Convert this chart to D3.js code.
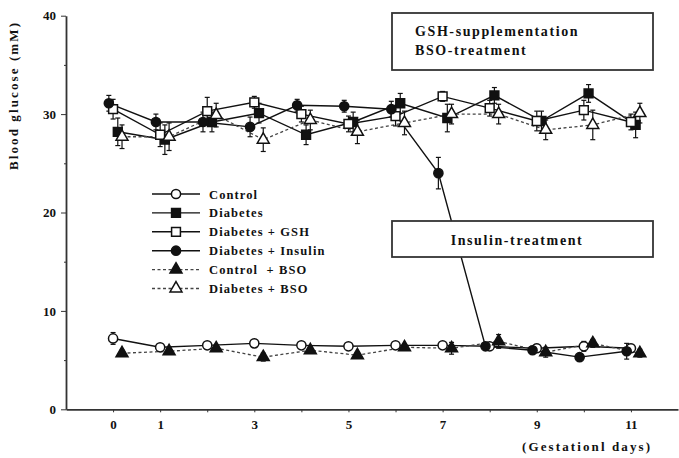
<!DOCTYPE html>
<html lang="en">
<head>
  <meta charset="UTF-8" />
  <title>Blood glucose during gestation</title>
  <script src="https://d3js.org/d3.v7.min.js"></script>
  <style>
    body { margin: 0; background: #fff; }
    svg { display: block; }
    text { font-family: 'Liberation Serif', 'Times New Roman', serif; font-weight: bold; fill: #111; }
    .axis path, .axis line { stroke: #333; }
    .axis path { stroke-width: 1.8; }
    .axis text { font-size: 13px; }
    .legend-label { white-space: pre; }
  </style>
</head>
<body>
  <svg id="chart" width="679" height="458"></svg>

  <script>
    // gestation days
    const days = [0, 1, 2, 3, 4, 5, 6, 7, 8, 9, 10, 11];
    const xLabels = [0, 1, 3, 5, 7, 9, 11];
    const yTicks = [0, 10, 20, 30, 40];
    const yMinor = [5, 15, 25, 35];

    // blood glucose (mM), mean and error per day
    const control        = [7.2, 6.3, 6.5, 6.7, 6.5, 6.4, 6.5, 6.5, 6.4, 6.2, 6.4, 6.2];
    const controlErr     = [0.6, 0.3, 0.3, 0.4, 0.3, 0.3, 0.3, 0.3, 0.3, 0.4, 0.5, 0.4];
    const diabetes       = [28.2, 27.4, 29.2, 30.1, 27.9, 29.2, 31.1, 29.6, 31.9, 29.3, 32.1, 28.9];
    const diabetesErr    = [1.4, 1.5, 1.0, 1.0, 1.0, 1.0, 1.0, 1.4, 0.8, 1.0, 0.9, 1.3];
    const gsh            = [30.5, 27.9, 30.3, 31.2, 30.0, 29.0, 29.8, 31.8, 30.6, 29.3, 30.4, 29.2];
    const gshErr         = [1.0, 1.2, 1.4, 0.6, 0.8, 0.8, 1.0, 0.5, 0.8, 1.0, 1.0, 0.8];
    const insulin        = [31.1, 29.2, 29.2, 28.7, 30.9, 30.8, 30.5, 24.0, 6.4, 6.0, 5.3, 5.9];
    const insulinErr     = [0.8, 0.8, 1.0, 1.0, 0.6, 0.6, 0.8, 1.6, 0.4, 0.4, 0.3, 0.8];
    const controlBso     = [5.7, 5.9, 6.2, 5.3, 6.0, 5.5, 6.3, 6.2, 6.9, 5.8, 6.7, 5.7];
    const controlBsoErr  = [0.3, 0.3, 0.3, 0.4, 0.3, 0.3, 0.3, 0.6, 0.7, 0.5, 0.4, 0.4];
    const diabetesBso    = [27.7, 27.7, 29.9, 27.4, 29.4, 28.2, 29.1, 30.0, 30.0, 28.4, 28.9, 30.1];
    const diabetesBsoErr = [1.2, 1.4, 1.2, 1.2, 1.0, 1.2, 1.2, 1.0, 1.0, 1.0, 1.5, 1.0];

    const series = [
      { name: "Control",            values: control,     err: controlErr,     shape: d3.symbolCircle,   filled: false, dashed: false, shift: 0 },
      { name: "Diabetes",           values: diabetes,    err: diabetesErr,    shape: d3.symbolSquare,   filled: true,  dashed: false, shift: 0.1 },
      { name: "Diabetes + GSH",     values: gsh,         err: gshErr,         shape: d3.symbolSquare,   filled: false, dashed: false, shift: 0 },
      { name: "Diabetes + Insulin", values: insulin,     err: insulinErr,     shape: d3.symbolCircle,   filled: true,  dashed: false, shift: -0.09 },
      { name: "Control  + BSO",     values: controlBso,  err: controlBsoErr,  shape: d3.symbolTriangle, filled: true,  dashed: true,  shift: 0.19 },
      { name: "Diabetes + BSO",     values: diabetesBso, err: diabetesBsoErr, shape: d3.symbolTriangle, filled: false, dashed: true,  shift: 0.19 }
    ];

    const svg = d3.select("#chart");
    const x = d3.scaleLinear().domain([-1, 12]).range([66, 678]);
    const y = d3.scaleLinear().domain([0, 40]).range([409.3, 15.7]);

    const symSize = s => s === d3.symbolSquare ? 78 : s === d3.symbolTriangle ? 62 : 66;

    // axes
    svg.append("g").attr("class", "axis")
      .attr("transform", `translate(${x(-1)},0)`)
      .call(d3.axisLeft(y).tickValues(yTicks).tickSize(5).tickSizeOuter(0).tickPadding(5))
      .call(g => g.selectAll("text").style("font-size", "13px"));
    svg.append("g").attr("class", "axis")
      .attr("transform", `translate(${x(-1)},0)`)
      .call(d3.axisLeft(y).tickValues(yMinor).tickSize(2).tickFormat(""))
      .call(g => g.select(".domain").remove());

    svg.append("g").attr("class", "axis")
      .attr("transform", `translate(0,${y(0)})`)
      .call(d3.axisBottom(x).tickValues(days).tickSize(3).tickSizeOuter(0).tickPadding(7)
        .tickFormat(d => xLabels.includes(d) ? d : ""));

    svg.append("text")
      .attr("transform", `translate(18,${(23 + 170) / 2}) rotate(-90)`)
      .attr("text-anchor", "middle")
      .style("font-size", "13px")
      .attr("textLength", 147).attr("lengthAdjust", "spacing")
      .text("Blood glucose (mM)");

    svg.append("text")
      .attr("x", 522).attr("y", 451)
      .style("font-size", "13px")
      .attr("textLength", 128).attr("lengthAdjust", "spacing")
      .text("(Gestationl days)");

    // lines
    const line = d3.line()
      .x((d, i) => x(days[i] + d.shift))
      .y(d => y(d.v));

    series.forEach(s => {
      const pts = s.values.map(v => ({ v, shift: s.shift }));
      svg.append("path")
        .attr("d", line(pts))
        .attr("fill", "none")
        .attr("stroke", s.dashed ? "#444" : "#111")
        .attr("stroke-width", s.dashed ? 1.3 : 1.4)
        .attr("stroke-dasharray", s.dashed ? "3,2.5" : null);
    });

    // error bars
    series.forEach(s => {
      const g = svg.append("g").attr("stroke", "#111").attr("stroke-width", 1.2);
      s.values.forEach((v, i) => {
        const cx = x(days[i] + s.shift);
        const top = y(v + s.err[i]), bot = y(v - s.err[i]);
        g.append("line").attr("x1", cx).attr("x2", cx).attr("y1", top).attr("y2", bot);
        g.append("line").attr("x1", cx - 2.5).attr("x2", cx + 2.5).attr("y1", top).attr("y2", top);
        g.append("line").attr("x1", cx - 2.5).attr("x2", cx + 2.5).attr("y1", bot).attr("y2", bot);
      });
    });

    // markers
    series.forEach(s => {
      svg.append("g").selectAll("path")
        .data(s.values)
        .join("path")
        .attr("transform", (v, i) => `translate(${x(days[i] + s.shift)},${y(v)})`)
        .attr("d", d3.symbol().type(s.shape).size(symSize(s.shape)))
        .attr("fill", s.filled ? "#111" : "#fff")
        .attr("stroke", "#111")
        .attr("stroke-width", 1.5);
    });

    // legend
    const legend = svg.append("g").attr("transform", "translate(152,194)");
    series.forEach((s, i) => {
      const row = legend.append("g").attr("transform", `translate(0,${i * 18.9})`);
      row.append("line")
        .attr("x1", 0).attr("x2", 48)
        .attr("stroke", s.dashed ? "#444" : "#111")
        .attr("stroke-width", 1.4)
        .attr("stroke-dasharray", s.dashed ? "3,2.5" : null);
      row.append("path")
        .attr("transform", "translate(24,0)")
        .attr("d", d3.symbol().type(s.shape).size(symSize(s.shape)))
        .attr("fill", s.filled ? "#111" : "#fff")
        .attr("stroke", "#111").attr("stroke-width", 1.5);
      row.append("text")
        .attr("class", "legend-label")
        .attr("x", 57).attr("y", 4.5)
        .style("font-size", "12.5px")
        .style("letter-spacing", "1.1px")
        .text(s.name);
    });

    // treatment boxes
    const boxes = [
      { x0: 392, x1: 653, y0: 13, y1: 70, lines: ["GSH-supplementation", "BSO-treatment"], tx: 415, ty: [36, 55], anchor: "start" },
      { x0: 392, x1: 653, y0: 221, y1: 257, lines: ["Insulin-treatment"], tx: 517, ty: [245], anchor: "middle" }
    ];
    boxes.forEach(b => {
      svg.append("rect")
        .attr("x", b.x0).attr("y", b.y0)
        .attr("width", b.x1 - b.x0).attr("height", b.y1 - b.y0)
        .attr("fill", "#fff").attr("stroke", "#333").attr("stroke-width", 1.8);
      b.lines.forEach((t, i) => {
        svg.append("text")
          .attr("x", b.tx).attr("y", b.ty[i])
          .attr("text-anchor", b.anchor)
          .style("font-size", "14px")
          .style("letter-spacing", "1.6px")
          .text(t);
      });
    });
  </script>
</body>
</html>
